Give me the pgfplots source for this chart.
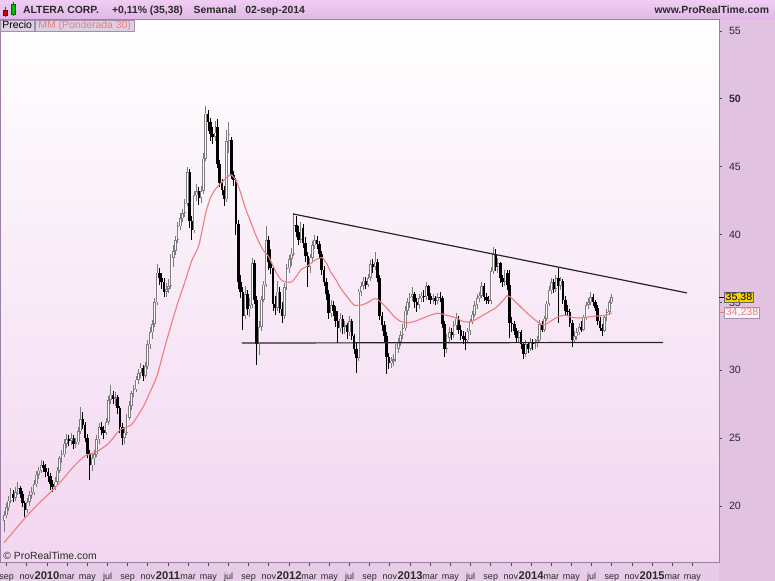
\documentclass[border=0pt]{standalone}
\usepackage{fontspec}
\setmainfont{Liberation Sans}
\usepackage{pgfplots}
\usepackage{pgfplotstable}
\pgfplotsset{compat=1.18}
\definecolor{hdrtop}{HTML}{EFCDF3}
\definecolor{hdrbot}{HTML}{E0B6E6}
\definecolor{plotbot}{HTML}{F2D6F0}
\definecolor{rightbg}{HTML}{E1C2E0}
\definecolor{botbg}{HTML}{E6CCE6}
\definecolor{framec}{HTML}{9C80A4}
\definecolor{tabbg}{HTML}{DCD0E2}
\definecolor{tabbd}{HTML}{A58FB0}
\definecolor{macol}{HTML}{EE7D7D}
\definecolor{upgrey}{HTML}{7C7C7C}
\definecolor{pricebox}{HTML}{F7D200}
\definecolor{txt}{HTML}{2A2A2A}
\newcommand{\mo}[1]{\rule{0pt}{6pt}{\fontsize{4.5}{5}\selectfont #1}}
\newcommand{\yr}[1]{\rule{0pt}{6pt}{\fontsize{5.6}{6}\selectfont\bfseries #1}}
\pgfplotsset{candle/.style={draw=none, mark=none, forget plot, error bars/.cd, y dir=plus, y explicit, error mark=none}}

\pgfplotstableread{
k o h l c
0 18.9 19.6 18.1 19.3
1 19.3 20.2 19.1 19.9
2 19.9 20.7 19.6 20.4
3 20.4 21.3 20.2 20.9
4 20.9 21.2 20.3 20.6
5 20.6 21.4 20.4 21.0
6 21.0 21.8 20.8 21.3
7 21.3 21.5 20.6 20.9
8 20.9 21.1 19.9 20.2
9 20.2 20.4 19.2 19.7
10 19.7 20.6 19.5 20.3
11 20.3 21.1 20.0 20.8
12 20.8 21.4 20.5 21.0
13 21.0 21.9 20.8 21.6
14 21.6 22.6 21.4 22.3
15 22.3 22.9 22.0 22.6
16 22.6 23.4 22.4 23.0
17 23.0 23.3 22.5 22.8
18 22.8 23.1 22.1 22.5
19 22.5 22.8 21.8 22.2
20 22.2 22.4 21.2 21.6
21 21.6 21.9 21.0 21.4
22 21.4 22.1 21.2 21.8
23 21.8 22.9 21.6 22.6
24 22.6 23.7 22.4 23.5
25 23.5 24.1 23.2 23.8
26 23.8 24.9 23.6 24.6
27 24.6 25.3 24.3 24.9
28 24.9 25.2 24.4 24.8
29 24.8 25.4 24.5 25.0
30 25.0 25.2 24.2 24.6
31 24.6 25.0 24.3 24.7
32 24.7 25.8 24.5 25.5
33 25.5 27.3 25.3 26.4
34 26.4 26.9 25.7 26.0
35 26.0 26.2 24.7 25.0
36 25.0 25.3 23.5 23.8
37 23.8 24.1 21.9 23.0
38 23.0 23.9 22.6 23.5
39 23.5 24.1 23.0 23.8
40 23.8 25.2 23.6 24.9
41 24.9 26.1 24.6 25.8
42 25.8 26.2 25.2 25.6
43 25.6 25.9 24.9 25.4
44 25.4 26.5 25.2 26.2
45 26.2 28.1 26.0 27.8
46 27.8 28.9 27.5 28.2
47 28.2 28.5 27.5 27.9
48 27.9 28.4 27.4 28.0
49 28.0 28.2 26.8 27.2
50 27.2 27.4 25.4 25.8
51 25.8 26.1 24.5 25.0
52 25.0 25.8 24.6 25.4
53 25.4 26.8 25.2 26.5
54 26.5 27.7 26.3 27.4
55 27.4 28.5 27.1 28.3
56 28.3 28.9 28.0 28.6
57 28.6 29.6 28.4 29.3
58 29.3 30.1 29.0 29.8
59 29.8 30.5 29.4 30.2
60 30.2 30.4 29.2 29.6
61 29.6 30.6 29.4 30.3
62 30.3 32.2 30.1 31.9
63 31.9 33.2 31.6 32.8
64 32.8 33.7 32.3 33.4
65 33.4 35.3 33.2 35.0
66 35.0 37.8 34.8 37.2
67 37.2 37.5 36.3 36.8
68 36.8 37.2 36.0 36.5
69 36.5 36.8 35.4 35.8
70 35.8 36.4 35.4 36.0
71 36.0 36.7 35.7 36.2
72 36.2 38.6 36.0 38.3
73 38.3 39.2 37.6 38.8
74 38.8 39.9 38.5 39.6
75 39.6 40.9 39.4 40.6
76 40.6 41.6 40.3 41.2
77 41.2 41.9 40.9 41.6
78 41.6 42.6 41.3 42.3
79 42.3 45.0 42.1 44.6
80 44.6 44.8 40.5 41.0
81 41.0 41.4 39.6 40.3
82 40.3 43.2 40.1 42.9
83 42.9 43.7 42.5 43.2
84 43.2 43.5 42.2 42.7
85 42.7 43.6 42.3 43.2
86 43.2 46.0 43.0 45.6
87 45.6 49.5 45.4 48.9
88 48.9 49.2 47.6 48.3
89 48.3 48.6 46.9 47.4
90 47.4 47.9 46.7 47.2
91 47.2 48.4 46.9 47.5
92 47.9 48.5 44.9 45.2
93 45.2 45.5 43.5 43.8
94 43.8 44.1 42.9 43.3
95 43.3 43.6 42.1 42.6
96 42.6 47.7 42.4 46.9
97 46.9 48.3 46.0 47.4
98 47.0 47.2 44.1 44.4
99 44.4 44.7 43.6 44.0
100 44.0 44.2 40.0 40.8
101 40.8 41.1 36.0 36.5
102 36.5 37.0 35.3 35.8
103 35.8 36.1 33.0 34.0
104 34.0 36.2 33.8 35.6
105 35.6 35.9 34.1 34.5
106 34.5 35.3 33.9 34.8
107 34.8 38.3 34.6 37.9
108 37.9 38.1 34.9 35.2
109 35.2 35.5 30.4 31.9
110 31.9 33.6 31.1 33.2
111 33.2 35.5 32.9 35.2
112 35.2 36.6 35.0 36.3
113 36.3 40.6 36.1 39.6
114 39.6 39.9 37.4 38.0
115 38.0 38.9 37.1 37.5
116 37.5 37.7 34.4 34.9
117 34.9 35.5 34.1 34.6
118 34.6 36.6 34.4 35.8
119 35.8 36.1 34.2 34.5
120 34.5 35.0 33.5 34.0
121 34.0 36.4 33.8 36.1
122 36.1 37.8 35.9 37.5
123 37.5 38.5 37.2 38.2
124 38.2 39.0 37.7 38.6
125 38.6 41.6 38.4 40.7
126 40.7 41.4 39.8 40.2
127 40.2 40.6 39.2 39.6
128 39.6 40.9 39.4 40.5
129 40.5 40.8 39.0 39.4
130 39.4 39.8 38.0 38.4
131 38.4 38.7 36.1 37.6
132 37.6 38.6 37.2 38.3
133 38.3 39.5 38.0 39.2
134 39.2 40.0 38.9 39.6
135 39.6 39.9 38.9 39.3
136 39.3 39.5 38.2 38.6
137 38.6 38.8 37.0 37.4
138 37.4 37.7 36.2 36.5
139 36.5 36.8 35.2 35.6
140 35.6 35.9 33.8 34.2
141 34.2 35.2 33.9 34.8
142 34.8 35.1 34.0 34.4
143 34.4 34.7 33.2 33.6
144 33.6 34.4 32.0 33.1
145 33.1 34.2 32.8 33.8
146 33.8 34.1 32.7 33.2
147 33.2 33.6 32.7 33.3
148 33.3 33.5 32.3 32.8
149 32.8 34.0 32.5 33.6
150 33.6 33.8 32.2 32.5
151 32.5 32.7 31.2 31.6
152 31.6 32.0 29.8 30.9
153 30.9 36.0 30.7 35.8
154 35.8 36.5 35.5 36.2
155 36.2 36.9 35.9 36.6
156 36.6 36.9 36.0 36.3
157 36.3 37.1 36.1 36.8
158 36.8 38.1 36.6 37.8
159 37.8 38.2 37.2 37.6
160 37.6 38.7 37.4 38.0
161 38.0 38.2 36.5 36.8
162 36.8 37.0 33.7 34.0
163 34.0 34.3 32.9 33.3
164 33.3 33.6 32.1 32.5
165 32.5 32.8 29.7 31.0
166 31.0 31.3 30.1 30.5
167 30.5 31.0 30.2 30.7
168 30.7 31.2 30.3 30.8
169 30.8 31.9 30.6 31.6
170 31.6 32.4 31.3 32.1
171 32.1 32.9 31.8 32.6
172 32.6 33.4 32.3 33.1
173 33.1 34.7 32.9 34.4
174 34.4 35.3 34.1 35.0
175 35.0 35.7 34.6 35.4
176 35.4 36.1 35.1 35.6
177 35.6 35.8 34.6 35.0
178 35.0 35.3 34.3 34.8
179 34.8 35.6 34.5 35.3
180 35.3 35.8 35.0 35.5
181 35.5 35.9 35.0 35.4
182 35.4 36.5 35.2 36.2
183 36.2 36.3 35.2 35.5
184 35.5 35.7 34.9 35.2
185 35.2 35.6 34.9 35.3
186 35.3 35.5 34.8 35.1
187 35.1 35.7 34.9 35.4
188 35.4 35.8 35.0 35.3
189 35.3 35.5 33.1 33.4
190 33.4 33.6 31.0 31.6
191 31.6 32.7 31.3 32.4
192 32.4 33.2 32.1 32.8
193 32.8 33.1 32.2 32.6
194 32.6 33.6 32.4 33.3
195 33.3 34.2 33.0 33.8
196 33.8 34.0 32.7 33.0
197 33.0 33.3 32.2 32.5
198 32.5 32.9 31.9 32.3
199 32.3 32.8 31.5 32.2
200 32.2 33.1 32.0 32.9
201 32.9 33.8 32.6 33.6
202 33.6 34.4 33.4 34.1
203 34.1 35.1 33.9 34.8
204 34.8 35.6 34.5 35.3
205 35.3 35.8 35.0 35.5
206 35.5 36.5 35.3 36.2
207 36.2 36.4 35.1 35.4
208 35.4 35.7 34.9 35.2
209 35.2 35.5 34.9 35.1
210 35.1 37.6 34.9 37.3
211 37.3 39.1 37.1 38.6
212 38.6 38.9 37.3 37.6
213 37.6 38.3 37.2 37.9
214 37.9 38.0 36.4 36.8
215 36.8 37.0 36.1 36.5
216 36.5 37.4 36.2 37.2
217 37.2 37.4 35.9 36.3
218 36.3 37.4 32.4 33.5
219 33.5 33.9 32.8 33.4
220 33.4 33.6 32.6 32.9
221 32.9 33.1 32.0 32.4
222 32.4 33.0 32.1 32.8
223 32.8 33.0 31.6 31.9
224 31.9 32.1 30.8 31.2
225 31.2 32.2 31.0 31.9
226 31.9 32.1 31.3 31.6
227 31.6 32.4 31.4 32.1
228 32.1 32.3 31.5 31.9
229 31.9 32.3 31.6 32.0
230 32.0 32.5 31.7 32.2
231 32.2 33.7 32.0 33.4
232 33.4 33.6 32.8 33.0
233 33.0 34.0 32.8 33.8
234 33.8 35.1 33.6 34.9
235 34.9 36.2 34.7 35.9
236 35.9 36.8 35.6 36.5
237 36.5 36.7 35.7 36.0
238 36.0 37.0 35.8 36.8
239 36.8 37.5 33.5 36.2
240 36.2 36.9 35.9 36.6
241 36.6 36.7 34.9 35.2
242 35.2 35.5 34.1 34.4
243 34.4 34.8 34.0 34.3
244 34.3 34.5 33.2 33.5
245 33.5 33.7 31.7 32.2
246 32.2 32.9 32.0 32.5
247 32.5 33.1 32.2 32.8
248 32.8 33.5 32.6 33.2
249 33.2 33.6 32.8 33.0
250 33.0 34.1 32.9 33.9
251 33.9 35.0 33.7 34.8
252 34.8 35.3 34.5 35.0
253 35.0 35.8 34.8 35.4
254 35.4 35.6 34.7 35.0
255 35.0 35.2 34.4 34.6
256 34.6 34.8 33.3 33.6
257 33.6 33.9 32.9 33.1
258 33.1 33.4 32.5 32.9
259 32.9 34.1 32.8 33.9
260 33.9 34.5 33.6 34.3
261 34.3 35.2 34.1 35.0
262 35.0 35.6 34.9 35.38
}\candles

\pgfplotstableread{
k v
0 17.3
5 18.3
10 19.3
15 20.2
20 21.0
25 21.9
30 22.9
35 23.7
40 24.0
45 24.6
50 25.6
55 26.0
60 27.3
63 28.4
66 29.6
69 31.5
72 33.3
75 35.0
78 36.5
81 38.1
84 39.2
87 41.6
89 42.7
91 43.3
93 43.7
96 44.2
98 44.4
100 44.0
102 43.1
104 42.0
106 41.1
108 40.2
110 39.4
112 38.8
114 38.4
116 37.7
118 37.0
120 36.6
122 36.5
124 36.5
126 36.9
128 37.4
131 37.7
134 38.1
137 38.3
139 37.9
141 37.2
143 36.7
145 36.1
148 35.4
151 34.8
154 34.8
157 35.0
160 35.3
162 35.1
165 34.6
168 34.0
171 33.6
174 33.5
177 33.6
180 33.8
183 34.0
187 34.2
191 34.05
195 33.85
198 33.6
201 33.55
204 33.8
208 34.2
212 34.6
215 35.1
217 35.5
219 35.3
222 34.8
225 34.3
228 33.85
231 33.45
233 33.35
236 33.65
239 33.95
242 34.05
245 33.9
248 33.85
252 33.93
256 34.0
260 34.07
262 34.238
}\mma

\begin{document}
\begin{tikzpicture}
% backgrounds
\fill[rightbg] (359.5pt,-9pt) rectangle (387.5pt,271.5pt);
\fill[botbg] (0pt,-9pt) rectangle (359.5pt,0pt);
\shade[top color=white, bottom color=plotbot] (0pt,0pt) rectangle (359.5pt,271.5pt);
\shade[top color=hdrtop, bottom color=hdrbot] (0pt,271.5pt) rectangle (387.5pt,281.5pt);
\begin{axis}[
  at={(0pt,0pt)}, anchor=south west,
  scale only axis, width=359.5pt, height=271.5pt,
  xmin=-1.725, xmax=308.3, ymin=15.80, ymax=55.81,
  axis line style={draw=framec, line width=0.5pt},
  clip mode=individual,
  xtick={1.15,9.85,18.54,27.24,35.94,44.64,53.33,62.03,70.73,79.42,88.12,96.82,105.51,114.21,122.91,131.61,140.30,149.00,157.70,166.39,175.09,183.79,192.48,201.18,209.88,218.58,227.27,235.97,244.67,253.36,262.06,270.76,279.45,288.15,296.85},
  xticklabels={\mo{sep},\mo{nov},\yr{2010},\mo{mar},\mo{may},\mo{jul},\mo{sep},\mo{nov},\yr{2011},\mo{mar},\mo{may},\mo{jul},\mo{sep},\mo{nov},\yr{2012},\mo{mar},\mo{may},\mo{jul},\mo{sep},\mo{nov},\yr{2013},\mo{mar},\mo{may},\mo{jul},\mo{sep},\mo{nov},\yr{2014},\mo{mar},\mo{may},\mo{jul},\mo{sep},\mo{nov},\yr{2015},\mo{mar},\mo{may}},
  ytick={20,25,30,35,40,45,50,55},
  yticklabels={20,25,30,35,40,45,\textbf{50},55},
  xtick pos=bottom, ytick pos=right, yticklabel pos=right,
  tick align=outside, major tick length=1.5pt,
  tick style={draw=black!70, line width=0.4pt},
  xticklabel style={text=txt, inner sep=0.6pt, anchor=north},
  yticklabel style={font=\fontsize{5.3}{6}\selectfont, text=txt},
  /pgf/number format/assume math mode=true,
]
% wicks (down: black, up: grey)
\addplot[candle, error bar style={line width=0.5pt, draw=black}]
  table[x=k, y=l, y error expr={(\thisrow{h}-\thisrow{l})*(1-min(1,max(0,(\thisrow{c}-\thisrow{o})*1000)))}] {\candles};
\addplot[candle, error bar style={line width=0.5pt, draw=upgrey}]
  table[x=k, y=l, y error expr={(\thisrow{h}-\thisrow{l})*min(1,max(0,(\thisrow{c}-\thisrow{o})*1000))}] {\candles};
% bodies
\addplot[candle, error bar style={line width=1.3pt, draw=black}]
  table[x=k, y=c, y error expr={max(\thisrow{o}-\thisrow{c},0)}] {\candles};
\addplot[candle, error bar style={line width=1.3pt, draw=upgrey}]
  table[x=k, y=o, y error expr={max(\thisrow{c}-\thisrow{o},0)}] {\candles};
\addplot[candle, error bar style={line width=0.35pt, draw=white}]
  table[x=k, y expr=\thisrow{o}+0.05, y error expr={max(\thisrow{c}-\thisrow{o}-0.1,0)}] {\candles};
% weighted moving average
\addplot[macol, line width=0.55pt, smooth, tension=0.4, mark=none] table[x=k, y=v] {\mma};
% trend lines
\addplot[black!85, line width=0.6pt, mark=none] coordinates {(124.6,41.52) (294.5,35.70)};
\addplot[black!85, line width=0.6pt, mark=none] coordinates {(102.6,32.01) (284.2,32.05)};
\end{axis}
% right price labels
\draw[black, line width=0.5pt] (359.5pt,132.85pt) -- (361.8pt,132.85pt);
\draw[macol, line width=0.5pt] (359.5pt,125.1pt) -- (361.8pt,125.1pt);
\node[anchor=west, fill=pricebox, draw=black!60, line width=0.3pt, inner xsep=0.7pt, inner ysep=0.4pt,
  font=\fontsize{5.3}{6}\selectfont, text=black] at (362pt,132.85pt) {35,38};
\node[anchor=west, fill=white!85!rightbg, draw=tabbd, line width=0.4pt, inner xsep=0.7pt, inner ysep=0.4pt,
  font=\fontsize{5.3}{6}\selectfont, text=macol] at (362pt,125.1pt) {34,238};
% tabs
\draw[fill=tabbg, draw=tabbd, line width=0.4pt] (0pt,266pt) rectangle (17.2pt,271.5pt);
\draw[fill=tabbg, draw=tabbd, line width=0.4pt] (17.6pt,266pt) rectangle (67pt,271.5pt);
\node[anchor=base west, inner sep=0pt, font=\fontsize{5.2}{6}\selectfont, text=black] at (1pt,267.3pt) {Precio};
\node[anchor=base west, inner sep=0pt, font=\fontsize{5.2}{6}\selectfont, text=macol] at (19pt,267.3pt) {MM (Ponderada 30)};
% header icon
\draw[black!70, line width=0.3pt] (2.65pt,278pt) -- (2.65pt,273pt);
\draw[fill=red!80!black, draw=red!50!black, line width=0.3pt] (1.7pt,273.7pt) rectangle (3.6pt,276.5pt);
\draw[black!70, line width=0.3pt] (6.7pt,280.5pt) -- (6.7pt,273.5pt);
\draw[fill=green!75!black, draw=green!40!black, line width=0.3pt] (5.6pt,274.5pt) rectangle (7.8pt,279.5pt);
% header text
\node[anchor=base west, inner sep=0pt, font=\fontsize{5.2}{6}\selectfont\bfseries, text=txt] at (11.35pt,274.6pt) {ALTERA CORP.};
\node[anchor=base west, inner sep=0pt, font=\fontsize{5.2}{6}\selectfont\bfseries, text=txt] at (55.85pt,274.6pt) {+0,11\% (35,38)};
\node[anchor=base west, inner sep=0pt, font=\fontsize{5.2}{6}\selectfont\bfseries, text=txt] at (96.65pt,274.6pt) {Semanal};
\node[anchor=base west, inner sep=0pt, font=\fontsize{5.2}{6}\selectfont\bfseries, text=txt] at (122.5pt,274.6pt) {02-sep-2014};
\node[anchor=base east, inner sep=0pt, font=\fontsize{5.2}{6}\selectfont\bfseries, text=txt] at (384.7pt,274.6pt) {www.ProRealTime.com};
% copyright
\node[anchor=base west, inner sep=0pt, font=\fontsize{5.2}{6}\selectfont, text=txt] at (1.5pt,1.6pt) {\textcopyright{} ProRealTime.com};
\pgfresetboundingbox
\useasboundingbox (0pt,-9pt) rectangle (387.5pt,281.5pt);
\end{tikzpicture}
\end{document}
